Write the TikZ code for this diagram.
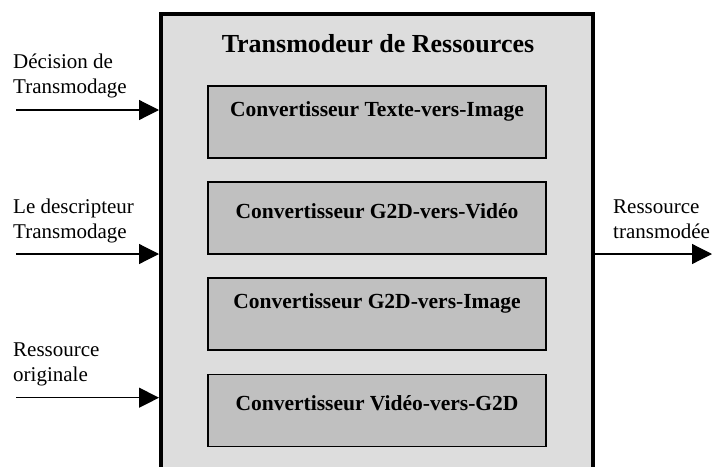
\documentclass[tikz,border=0pt]{standalone}
\usepackage{fontspec}
\setmainfont{Liberation Serif}
\usetikzlibrary{arrows.meta}
\definecolor{outerfill}{HTML}{DDDDDD}
\definecolor{innerfill}{HTML}{C0C0C0}
\tikzset{
  outerbox/.style={draw=black, line width=4pt, fill=outerfill, rectangle,
    minimum width=432pt, minimum height=476pt, inner sep=0pt},
  convbox/.style={draw=black, line width=1.6pt, fill=innerfill, rectangle,
    minimum width=338pt, minimum height=72pt, inner sep=0pt},
  convtext/.style={anchor=base, inner sep=0pt, font=\fontsize{21.5}{25}\selectfont\bfseries},
  titletext/.style={anchor=base, inner sep=0pt, font=\fontsize{26}{30}\selectfont\bfseries},
  sidetext/.style={anchor=base west, inner sep=0pt, align=left, font=\fontsize{21}{25}\selectfont},
  arr/.style={line width=1.2pt, -{Triangle[length=20pt,width=20pt]}}
}
\begin{document}
\begin{tikzpicture}[x=1pt,y=-1pt]
\useasboundingbox (0,0) rectangle (712,466);
\clip (0,0) rectangle (712,466);
\node[outerbox] (main) at (377,252) {};
\node[titletext] (title) at (378,52) {Transmodeur de Ressources};
\node[convbox] (c1) at (377,122) {};
\node[convbox] (c2) at (377,218) {};
\node[convbox] (c3) at (377,314) {};
\node[convbox] (c4) at (377,410.5) {};
\node[convtext] (t1) at ([yshift=-31.5pt]c1.north) {Convertisseur Texte-vers-Image};
\node[convtext] (t2) at ([yshift=-37pt]c2.north) {Convertisseur G2D-vers-Vidéo};
\node[convtext] (t3) at ([yshift=-31.5pt]c3.north) {Convertisseur G2D-vers-Image};
\node[convtext] (t4) at ([yshift=-36.5pt]c4.north) {Convertisseur Vidéo-vers-G2D};
\node[sidetext] (l1) at (13,93.3) {Décision de\\Transmodage};
\node[sidetext] (l2) at (13,238.3) {Le descripteur\\Transmodage};
\node[sidetext] (l3) at (13,381.7) {Ressource\\originale};
\node[sidetext] (l4) at (613,238.3) {Ressource\\transmodée};
\coordinate (a1) at (16,110);
\coordinate (a2) at (16,254);
\coordinate (a3) at (16,397.7);
\coordinate (a4) at (712,254);
\draw[arr] (a1) -- (main.west |- a1);
\draw[arr] (a2) -- (main.west |- a2);
\draw[arr] (a3) -- (main.west |- a3);
\draw[arr] (main.east |- a4) -- (a4);
\end{tikzpicture}
\end{document}
